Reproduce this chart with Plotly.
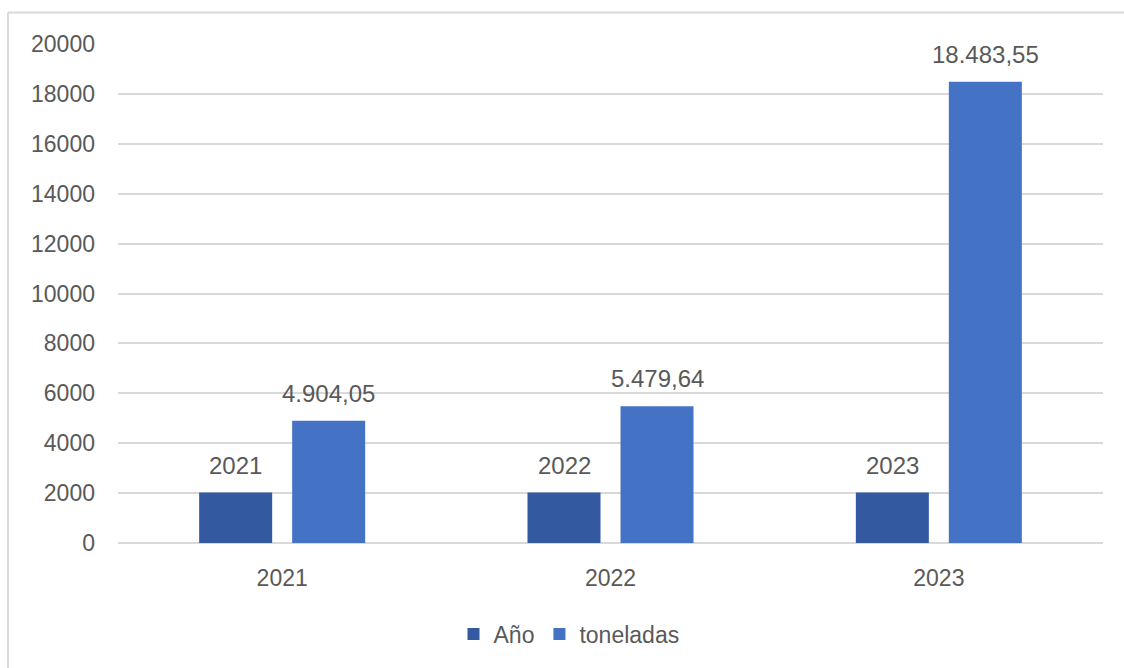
import plotly.graph_objects as go

categories = ["2021", "2022", "2023"]
anio_values = [2021, 2022, 2023]
toneladas_values = [4904.05, 5479.64, 18483.55]
y_ticks = [0, 2000, 4000, 6000, 8000, 10000, 12000, 14000, 16000, 18000, 20000]

C_ANIO = "#335aa0"
C_TON = "#4472c4"
GRAY = "#595959"
GRID = "#d9d9d9"
FONT = "Liberation Sans"


def es_fmt(v, dec=2):
    s = f"{v:,.{dec}f}"
    return s.replace(",", "X").replace(".", ",").replace("X", ".")


fig = go.Figure()
fig.add_trace(go.Bar(name="Año", x=categories, y=anio_values, marker_color=C_ANIO,
                     marker_line_width=0))
fig.add_trace(go.Bar(name="toneladas", x=categories, y=toneladas_values, marker_color=C_TON,
                     marker_line_width=0))

# data labels (x given as category index on the category axis)
for i, v in enumerate(anio_values):
    fig.add_annotation(x=i, y=v, xref="x", yref="y", text=str(v), showarrow=False,
                       xshift=-46.5, yshift=12, yanchor="bottom",
                       font=dict(family=FONT, size=24, color=GRAY))
for i, v in enumerate(toneladas_values):
    fig.add_annotation(x=i, y=v, xref="x", yref="y", text=es_fmt(v), showarrow=False,
                       xshift=46.5, yshift=12, yanchor="bottom",
                       font=dict(family=FONT, size=24, color=GRAY))

L, R, T, B = 118, 21, 44, 125
W, H = 1124, 668
pw, ph = W - L - R, H - T - B


def px_to_paper_x(px):
    return (px - L) / pw


def px_to_paper_y(py):
    return (H - B - py) / ph


# chart border (top and left visible)
fig.add_shape(type="line", xref="paper", yref="paper",
              x0=px_to_paper_x(8), x1=px_to_paper_x(1130),
              y0=px_to_paper_y(12.5), y1=px_to_paper_y(12.5),
              line=dict(color=GRID, width=2))
fig.add_shape(type="line", xref="paper", yref="paper",
              x0=px_to_paper_x(8), x1=px_to_paper_x(8),
              y0=px_to_paper_y(12.5), y1=px_to_paper_y(680),
              line=dict(color=GRID, width=2))

fig.update_layout(
    width=W, height=H,
    margin=dict(l=L, r=R, t=T, b=B),
    paper_bgcolor="white", plot_bgcolor="white",
    barmode="group", bargap=0.4335, bargroupgap=0.215,
    font=dict(family=FONT, size=23, color=GRAY),
    showlegend=True,
    legend=dict(orientation="h", x=px_to_paper_x(569), xanchor="center",
                y=px_to_paper_y(634), yanchor="middle",
                font=dict(family=FONT, size=23, color=GRAY),
                itemwidth=30, traceorder="normal"),
    xaxis=dict(type="category", range=[-0.5, len(categories) - 0.5], showgrid=False,
               showline=False, ticks="", zeroline=False,
               ticklabelstandoff=19, tickfont=dict(size=23, color=GRAY)),
    yaxis=dict(range=[0, 20000], tickvals=y_ticks, tickformat="d", showgrid=True,
               gridcolor=GRID, gridwidth=2, zeroline=True, zerolinecolor=GRID,
               zerolinewidth=2, showline=False, ticks="", ticklabelstandoff=22,
               tickfont=dict(size=23, color=GRAY)),
)

fig.write_html("out.html")
